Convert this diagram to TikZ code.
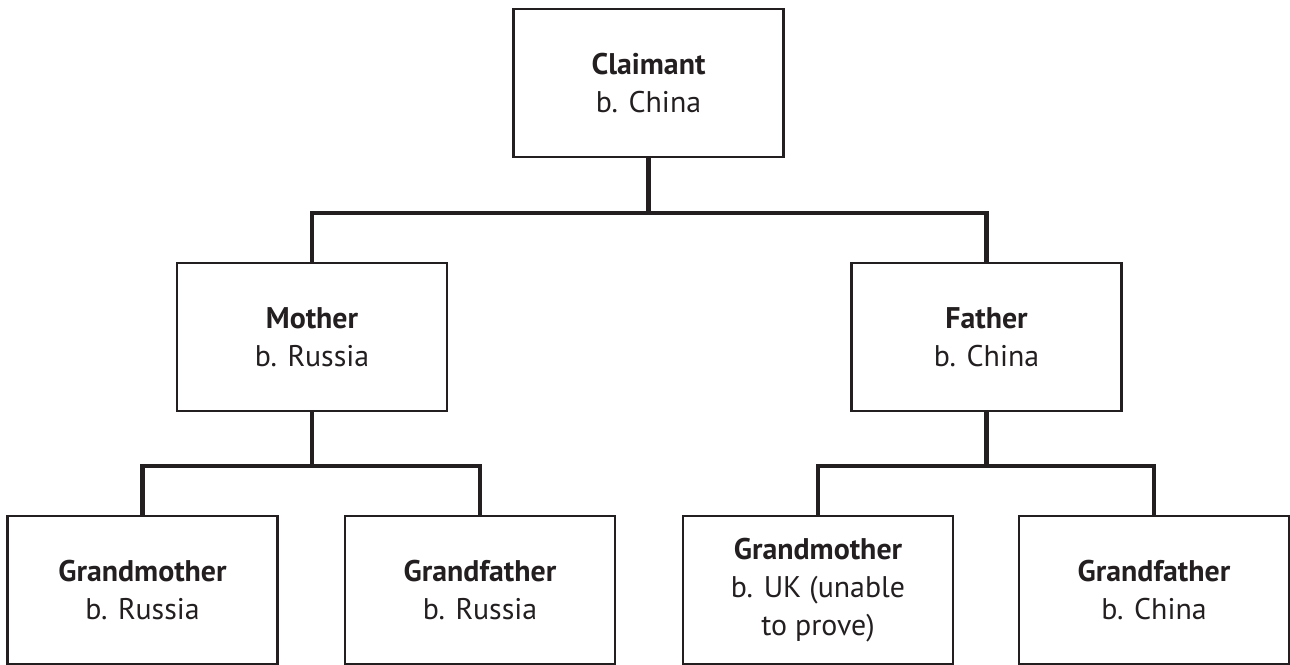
\documentclass[tikz,border=0pt]{standalone}
\usepackage{fontspec}
\setmainfont{PT Sans}
\usepackage{tikz}
\usetikzlibrary{positioning}
\definecolor{ink}{HTML}{231F20}
\tikzset{person/.style = {rectangle,draw=ink,line width=1.4pt,minimum width=5.4cm,minimum height=2.96cm,
    align=center,text=ink,inner sep=0pt,font=\fontsize{17}{21.5}\selectfont},
  link/.style = {draw=ink,line width=2.3pt}}

\begin{document}
\begin{tikzpicture}[x=0.02cm,y=-0.02cm]
            \useasboundingbox (0,0) rectangle (1290,664);
            % the claimant and the parents
            \node[person] (claimant) at (648.5,83) {\textbf{Claimant}\\b. China};
            \node[person] (mother) at (312,337) {\textbf{Mother}\\b. Russia};
            \node[person] (father) at (986.5,337) {\textbf{Father}\\b. China};
            % grandparents
            \node[person] (gm1) at (142.5,590) {\textbf{Grandmother}\\b. Russia};
            \node[person] (gf1) at (480,590) {\textbf{Grandfather}\\b. Russia};
            \node[person] (gm2) at (818,590) {\textbf{Grandmother}\\b. UK (unable\\to prove)};
            \node[person] (gf2) at (1154,590) {\textbf{Grandfather}\\b. China};
            % connectors
            \draw[link] (claimant.south) -- ++(0,55) coordinate (top);
            \draw[link] (mother.north) |- (top) -| (father.north);
            \draw[link] (mother.south) -- ++(0,54) coordinate (left);
            \draw[link] (gm1.north) |- (left) -| (gf1.north);
            \draw[link] (father.south) -- ++(0,54) coordinate (right);
            \draw[link] (gm2.north) |- (right) -| (gf2.north);
        \end{tikzpicture}
\end{document}
